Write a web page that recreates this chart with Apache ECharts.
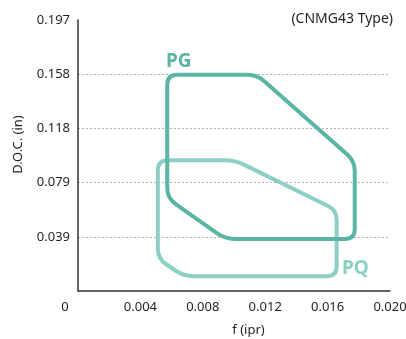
<!DOCTYPE html>
<html><head><meta charset="utf-8">
<script src="https://cdn.jsdelivr.net/npm/echarts@6/dist/echarts.min.js"></script>
<style>html,body{margin:0;padding:0;background:#fff}#c{width:406px;height:339px}</style>
</head><body><div id="c"></div>
<script>
const X_TICK_LABELS = ['0', '0.004', '0.008', '0.012', '0.016', '0.020'];
const Y_TICK_LABELS = ['', '0.039', '0.079', '0.118', '0.158', '0.197'];
const X_STEP = 0.004;
const Y_STEP = 0.03937;
// Range outlines (vertices): f (ipr) and D.O.C. (in)
const PG_F   = [0.00572, 0.01148, 0.01774, 0.01774, 0.00942, 0.00572];
const PG_DOC = [0.1570, 0.1570, 0.0943, 0.0378, 0.0378, 0.0675];
const PQ_F   = [0.00512, 0.01006, 0.01658, 0.01658, 0.00677, 0.00512];
const PQ_DOC = [0.0950, 0.0950, 0.0587, 0.0108, 0.0108, 0.0235];

const PG_COLOR = '#5bb5a5';
const PQ_COLOR = '#8dcfc4';
const TXT = '#231f20';
const FONT = 'Noto Sans';

function roundedPath(p, r) {
  const n = p.length; let d = '';
  for (let i = 0; i < n; i++) {
    const a = p[(i - 1 + n) % n], b = p[i], c = p[(i + 1) % n];
    const v1 = [a[0] - b[0], a[1] - b[1]], v2 = [c[0] - b[0], c[1] - b[1]];
    const l1 = Math.hypot(v1[0], v1[1]), l2 = Math.hypot(v2[0], v2[1]);
    const r1 = Math.min(r, l1 / 2), r2 = Math.min(r, l2 / 2);
    const s = [b[0] + v1[0] / l1 * r1, b[1] + v1[1] / l1 * r1];
    const e = [b[0] + v2[0] / l2 * r2, b[1] + v2[1] / l2 * r2];
    d += (i === 0 ? 'M' : 'L') + s[0] + ' ' + s[1] + ' Q' + b[0] + ' ' + b[1] + ' ' + e[0] + ' ' + e[1] + ' ';
  }
  return d + 'Z';
}

function makeRender(fArr, dArr, color) {
  return function (params, api) {
    if (params.dataIndex !== 0) return null;
    const pts = fArr.map((f, i) => api.coord([f, dArr[i]]));
    return {
      type: 'path',
      shape: { pathData: roundedPath(pts, 10) },
      style: { fill: 'none', stroke: color, lineWidth: 4, lineJoin: 'round' }
    };
  };
}

const chart = echarts.init(document.getElementById('c'), null, { renderer: 'canvas' });
chart.setOption({
  animation: false,
  backgroundColor: '#fff',
  title: {
    text: '(CNMG43 Type)', right: 13, top: 12, padding: 0,
    textStyle: { fontSize: 14, fontWeight: 'normal', color: TXT, fontFamily: FONT }
  },
  grid: { left: 78, right: 16, top: 20, bottom: 48, outerBoundsMode: 'none' },
  xAxis: {
    type: 'value', min: 0, max: 0.02, interval: X_STEP,
    name: 'f (ipr)', nameLocation: 'middle', nameGap: 33,
    nameTextStyle: { fontSize: 13, color: TXT, fontFamily: FONT, padding: [0, 0, 0, 29] },
    axisLine: { show: true, lineStyle: { color: '#333', width: 1.5 } },
    axisTick: { show: false },
    splitLine: { show: false },
    axisLabel: {
      margin: 10, fontSize: 13, color: TXT, fontFamily: FONT,
      formatter: function (v) {
        const i = Math.round(v / X_STEP);
        return i === 0 ? '{z|' + X_TICK_LABELS[0] + '}' : X_TICK_LABELS[i];
      },
      rich: { z: { fontSize: 13, color: TXT, fontFamily: FONT, padding: [0, 26, 0, 0] } }
    }
  },
  yAxis: {
    type: 'value', min: 0, max: 0.19685, interval: Y_STEP,
    name: 'D.O.C. (in)', nameLocation: 'middle', nameGap: 53,
    nameTextStyle: { fontSize: 13, color: TXT, fontFamily: FONT, padding: [0, 0, 0, 22] },
    axisLine: { show: true, lineStyle: { color: '#333', width: 1.5 } },
    axisTick: { show: false },
    axisLabel: {
      margin: 8, fontSize: 13, color: TXT, fontFamily: FONT,
      formatter: function (v) { return Y_TICK_LABELS[Math.round(v / Y_STEP)] || ''; }
    },
    splitLine: {
      show: true, showMinLine: false, showMaxLine: false,
      lineStyle: { color: '#b3b3b3', width: 1, type: [2, 2] }
    }
  },
  series: [
    {
      name: 'PQ', type: 'custom', coordinateSystem: 'cartesian2d', silent: true,
      encode: { x: 0, y: 1 },
      data: PQ_F.map((f, i) => [f, PQ_DOC[i]]),
      renderItem: makeRender(PQ_F, PQ_DOC, PQ_COLOR), z: 2
    },
    {
      name: 'PG', type: 'custom', coordinateSystem: 'cartesian2d', silent: true,
      encode: { x: 0, y: 1 },
      data: PG_F.map((f, i) => [f, PG_DOC[i]]),
      renderItem: makeRender(PG_F, PG_DOC, PG_COLOR), z: 3
    }
  ],
  graphic: [
    { type: 'text', left: 166, top: 52, style: { text: 'PG', fill: PG_COLOR, font: 'bold 19px "Noto Sans"' } },
    { type: 'text', left: 342, top: 259, style: { text: 'PQ', fill: PQ_COLOR, font: 'bold 19px "Noto Sans"' } }
  ]
});
</script>
</body></html>
